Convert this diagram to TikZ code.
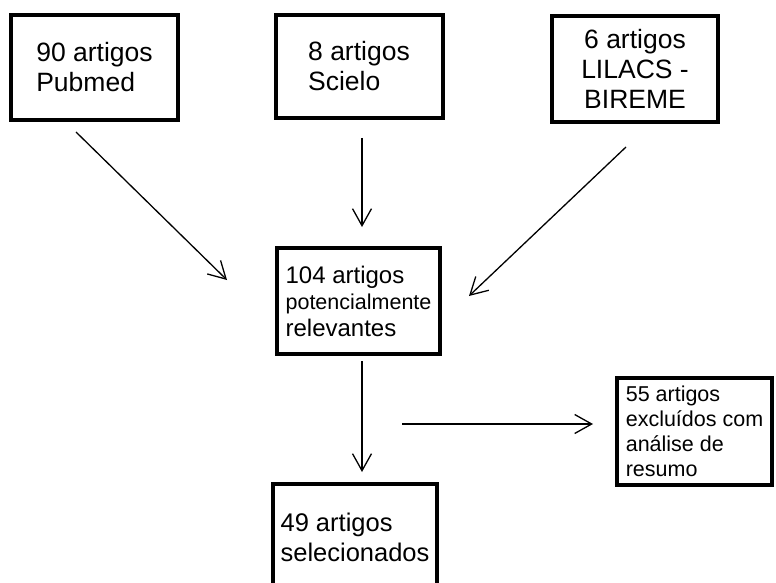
\documentclass[tikz,border=0pt]{standalone}
\usepackage{fontspec}
\setmainfont{Liberation Sans}
\usetikzlibrary{arrows.meta}

\begin{document}
\begin{tikzpicture}[
  x=1bp,y=-1bp,
  box/.style={draw,line width=4bp,minimum width=#1,inner sep=0pt},
  box/.default=167bp,
  big/.style={font=\fontsize{26.5bp}{30bp}\selectfont},
  mid/.style={font=\fontsize{24bp}{26.5bp}\selectfont},
  small/.style={font=\fontsize{21.5bp}{25bp}\selectfont},
  arr/.style={line width=1.3bp,-{Straight Barb[length=17bp,width=19bp]}}
  ]
\clip (0,0) rectangle (776,583);
% source boxes
\node[box,big,minimum height=105bp,align=left] (pubmed) at (94.5,67.5){90 artigos\\Pubmed};
\node[box,big,minimum height=103bp,align=left] (scielo) at (359,66.5){8 artigos\\Scielo};
\node[box=166bp,big,minimum height=106bp,align=center] (lilacs) at (635,69){6 artigos\\LILACS -\\BIREME};
% merged and result
\node[box=163bp,mid,minimum height=105bp,align=left] (rel) at (358.5,301)
  {104 artigos\\{\fontsize{21.5bp}{26.5bp}\selectfont potencialmente}\\relevantes};
\node[box=155bp,small,minimum height=107bp,align=left] (excl) at (694.5,431.5)
  {55 artigos\\exclu\'idos com\\an\'alise de\\resumo};
\node[box=164bp,font=\fontsize{25.5bp}{30bp}\selectfont,minimum height=106bp,align=left] (sel) at (355,537){49 artigos\\selecionados};
% free arrow ends
\coordinate (p1) at (76,132);   \coordinate (p2) at (227,280);
\coordinate (s1) at (362,138);  \coordinate (s2) at (362,227);
\coordinate (l1) at (626,147);  \coordinate (l2) at (469,296);
\coordinate (r1) at (362,361);  \coordinate (r2) at (362,472);
\coordinate (e1) at (402,424);  \coordinate (e2) at (593,424);
\draw[arr] (p1) -- (p2);
\draw[arr] (s1) -- (s2);
\draw[arr] (l1) -- (l2);
\draw[arr] (r1) -- (r2);
\draw[arr] (e1) -- (e2);
\end{tikzpicture}
\end{document}
